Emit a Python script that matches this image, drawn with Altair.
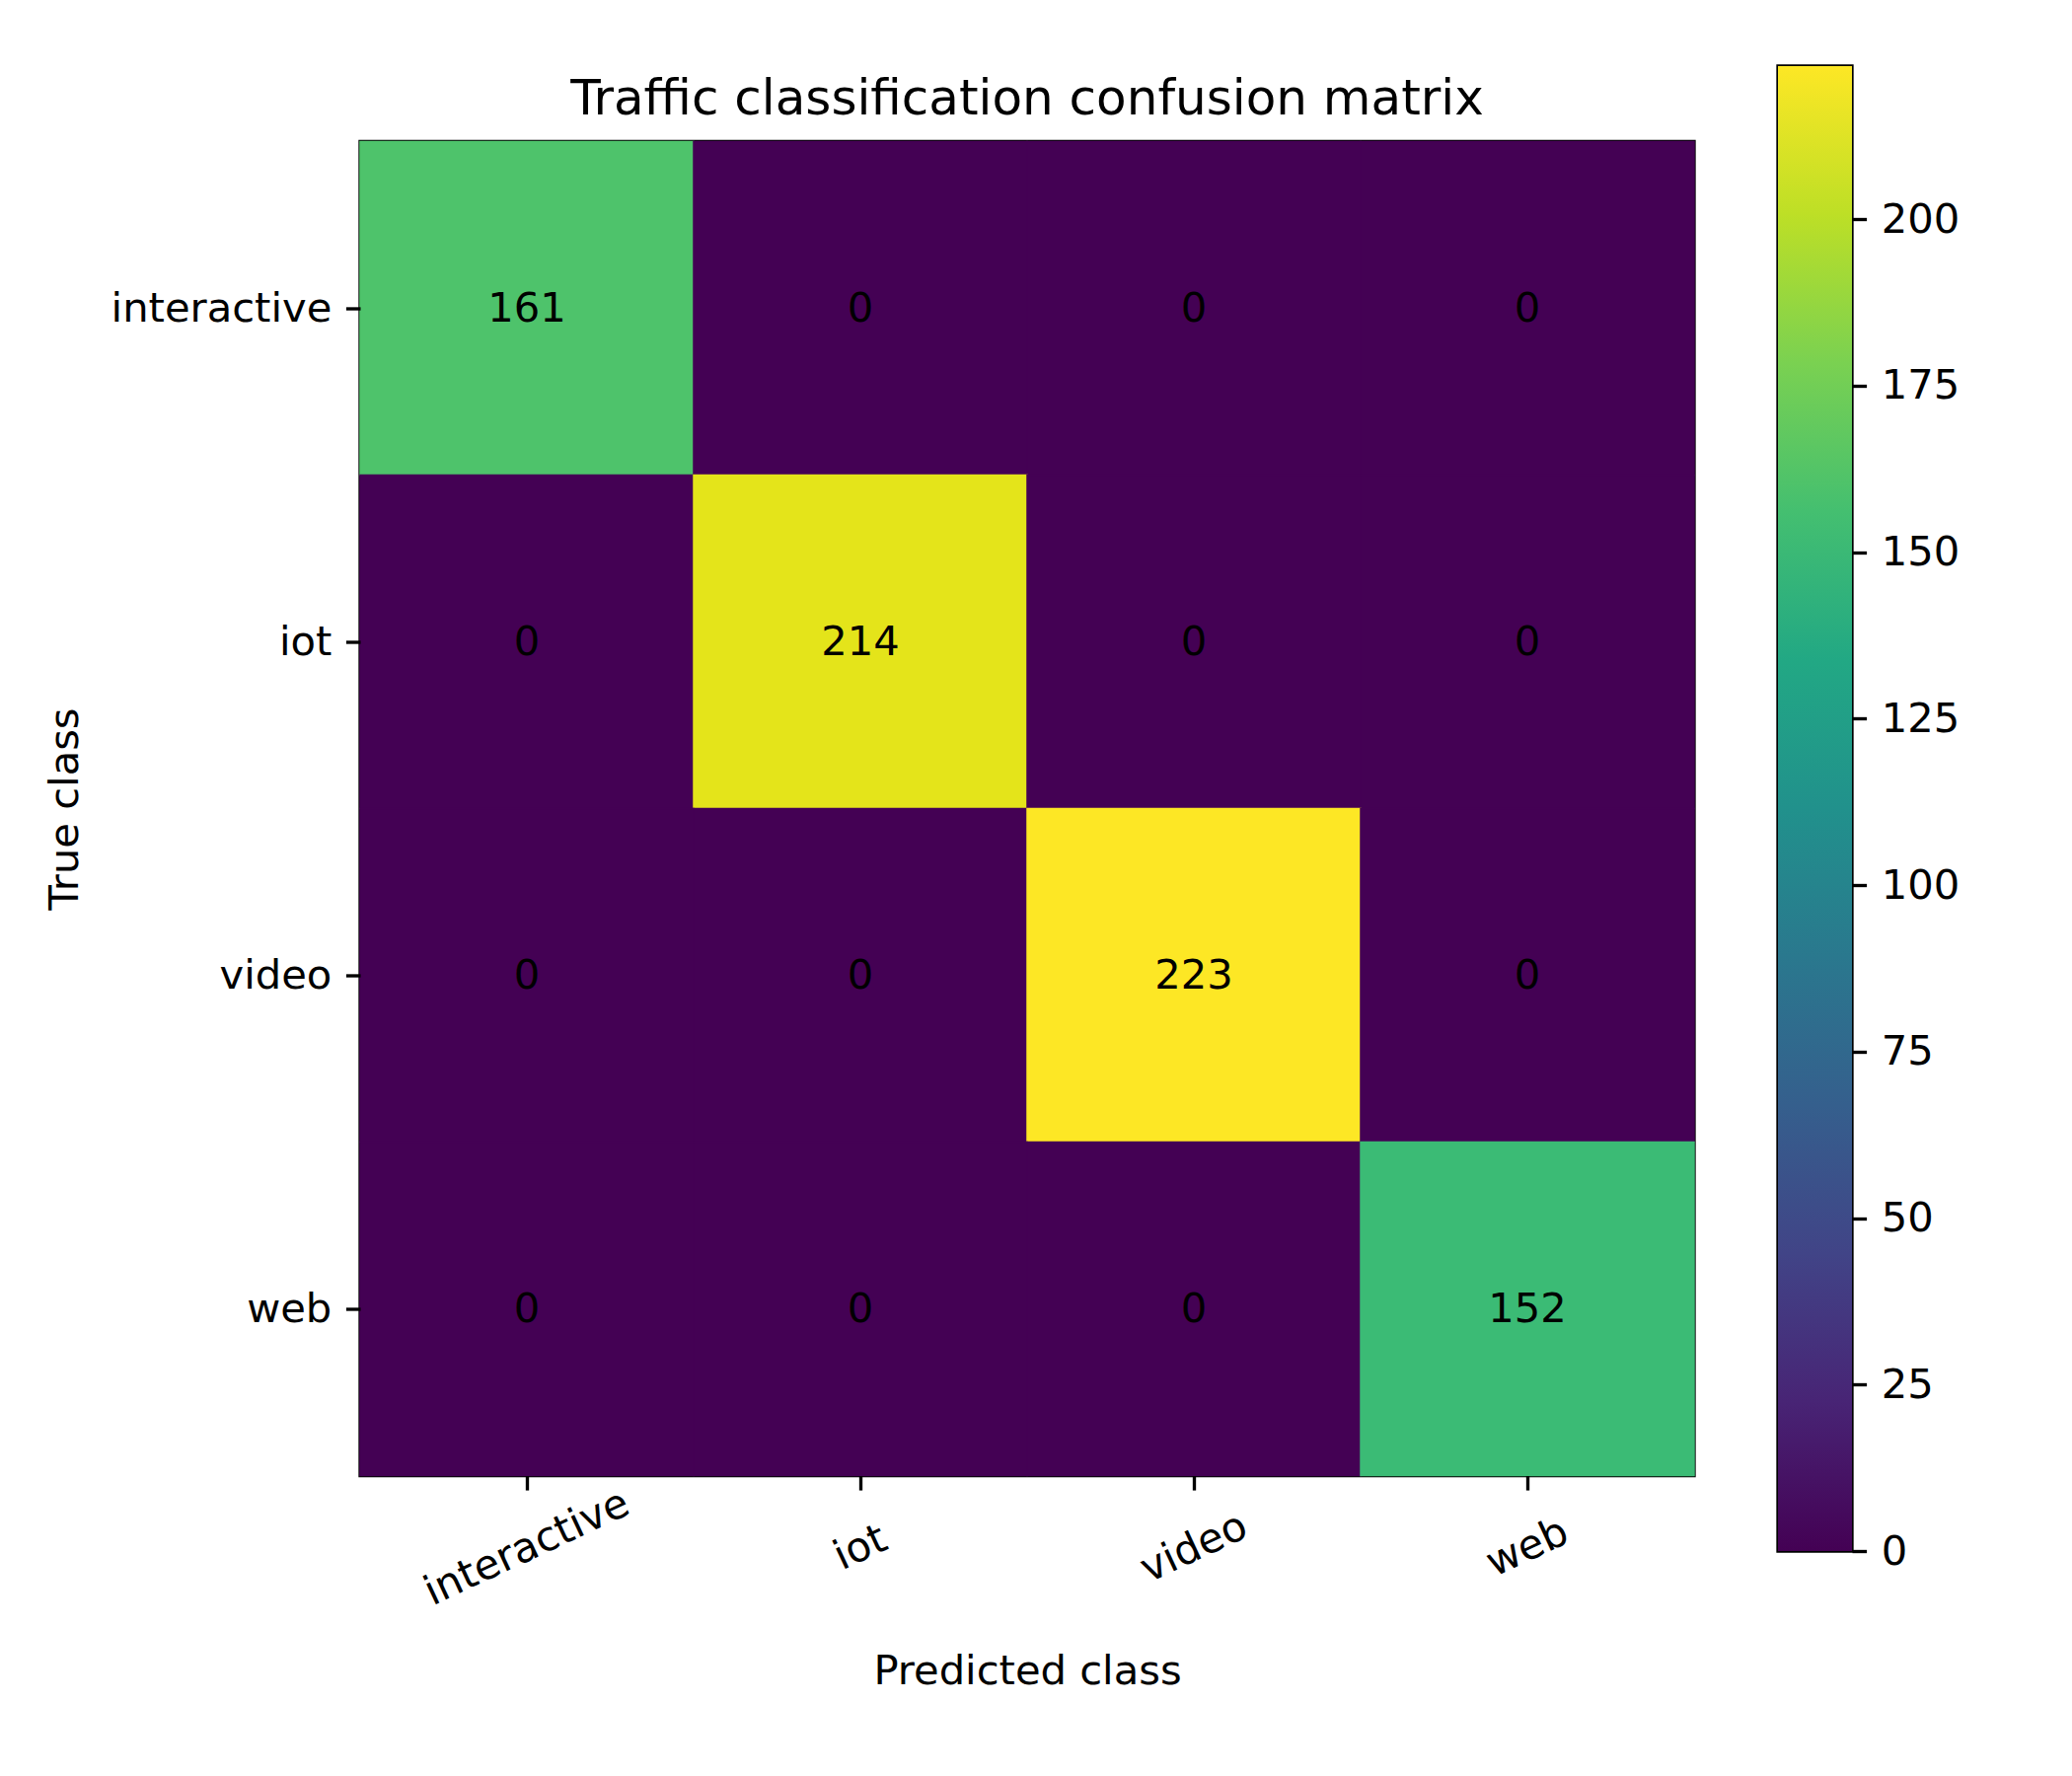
import altair as alt
import pandas as pd

# ---- data ----
true_classes = ["interactive", "iot", "video", "web"]
pred_classes = ["interactive", "iot", "video", "web"]
row_interactive = [161, 0, 0, 0]
row_iot = [0, 214, 0, 0]
row_video = [0, 0, 223, 0]
row_web = [0, 0, 0, 152]
colorbar_ticks = [0, 25, 50, 75, 100, 125, 150, 175, 200]
viridis_stops = ["#440154", "#482475", "#414487", "#355f8d", "#2a788e", "#21918c",
                 "#22a884", "#44bf70", "#7ad151", "#bddf26", "#fde725"]

matrix = [row_interactive, row_iot, row_video, row_web]
records = []
for t, row in zip(true_classes, matrix):
    for p, v in zip(pred_classes, row):
        records.append({"true": t, "pred": p, "count": v})
df = pd.DataFrame(records)

FONT = "DejaVu Sans"
FS = 41.67
LW = 3.33
TICK = 14.6
W = 1352
CB_W = 75
CB_H = 1505

band = alt.Scale(paddingInner=0, paddingOuter=0)
vir = alt.Scale(scheme="viridis")

base = alt.Chart(df).encode(
    x=alt.X("pred:N", sort=pred_classes, scale=band,
            axis=alt.Axis(title="Predicted class", labelAngle=335, labelAlign="center",
                          labelBaseline="middle", labelPadding=58, labelLimit=0,
                          titleX=W / 2, titleY=211, titleBaseline="alphabetic",
                          titleAlign="center")),
    y=alt.Y("true:N", sort=true_classes, scale=band,
            axis=alt.Axis(title="True class", titleAngle=270, titleX=-287, titleY=W / 2,
                          titleBaseline="alphabetic", titleAlign="center", labelLimit=0)),
)

heat = base.mark_rect(strokeWidth=1.5).encode(
    color=alt.Color("count:Q", scale=vir, legend=None),
    stroke=alt.Stroke("count:Q", scale=vir, legend=None),
)
labels = base.mark_text(font=FONT, fontSize=FS, color="black").encode(text="count:Q")

left = (heat + labels).properties(
    width=W, height=W,
    title=alt.TitleParams(text="Traffic classification confusion matrix", font=FONT,
                          fontSize=50, fontWeight="normal", color="black",
                          anchor="middle", frame="group", offset=-23,
                          baseline="alphabetic"),
)

gradient = alt.LinearGradient(
    gradient="linear",
    stops=[alt.GradientStop(color=c, offset=i / (len(viridis_stops) - 1))
           for i, c in enumerate(viridis_stops)],
    x1=0, x2=0, y1=1, y2=0,
)

cbar = alt.Chart(df).transform_aggregate(
    lo="min(count)", hi="max(count)"
).mark_rect(color=gradient).encode(
    y=alt.Y("lo:Q", scale=alt.Scale(nice=False, zero=True),
            axis=alt.Axis(orient="right", values=colorbar_ticks, title=None,
                          labelBaseline="middle")),
    y2="hi:Q",
    x=alt.value(0),
    x2=alt.value("width"),
).properties(width=CB_W, height=CB_H)

chart = alt.hconcat(left, cbar, spacing=85, center=True, bounds="flush").properties(
    padding={"left": 43, "top": 65, "right": 10, "bottom": 10},
    background="white",
).configure_view(
    stroke="black", strokeWidth=LW
).configure_axis(
    labelFont=FONT, labelFontSize=FS, labelColor="black",
    titleFont=FONT, titleFontSize=FS, titleColor="black", titleFontWeight="normal",
    tickColor="black", tickWidth=LW, tickSize=TICK, labelPadding=14.6,
    domain=False, grid=False, labelOverlap=False,
)

chart.save("out.html", embed_options={"renderer": "svg", "actions": False})
